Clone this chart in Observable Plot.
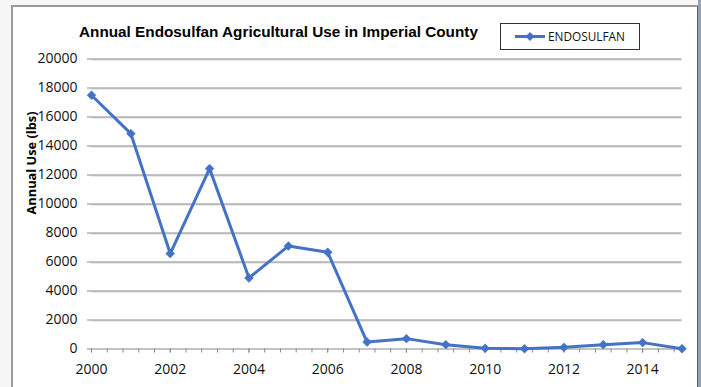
<!DOCTYPE html>
<html>
<head>
<meta charset="utf-8">
<script src="https://cdn.jsdelivr.net/npm/d3@7"></script>
<script src="https://cdn.jsdelivr.net/npm/@observablehq/plot@0.6"></script>
<style>
  html, body { margin: 0; padding: 0; background: #f7f7f7; }
  #wrap { position: relative; width: 701px; height: 387px; overflow: hidden; }
  #frame { position: absolute; left: 11px; top: 5px; width: 684px; height: 390px;
           background: #fff; border-left: 2px solid #9a9a9a; border-top: 2px solid #9a9a9a;
           border-right: 2px solid #5e5e5e; }
  #edge { position: absolute; left: 698px; top: 0; width: 3px; height: 387px; background: #8fa2ba; }
  #chart { position: absolute; left: 0; top: 0; }
  #title { position: absolute; left: 79px; top: 23px; font: bold 15.3px "Liberation Sans", Arial, sans-serif;
           color: #000; white-space: nowrap; }
  #legend { position: absolute; left: 500px; top: 23px; width: 138px; height: 25px;
            border: 1.5px solid #333; background: #fff; }
  #legend svg { position: absolute; left: 0; top: 0; }
  #legend span { position: absolute; left: 47px; top: 4px; font: 11.8px "Open Sans", sans-serif; color: #111; white-space: nowrap; }
  #ylabel { position: absolute; left: 31px; top: 163px; transform: translate(-50%, -50%) rotate(-90deg);
            font: bold 12.8px "Open Sans", sans-serif; color: #000; white-space: nowrap; line-height: 14px; }
</style>
</head>
<body>
<div id="wrap">
  <div id="frame"></div>
  <div id="edge"></div>
  <div id="chart"></div>
  <div id="title"></div>
  <div id="legend"></div>
  <div id="ylabel"></div>
</div>
<script>
const title = "Annual Endosulfan Agricultural Use in Imperial County";
const seriesName = "ENDOSULFAN";
const yLabel = "Annual Use (lbs)";
const years = [2000, 2001, 2002, 2003, 2004, 2005, 2006, 2007, 2008, 2009, 2010, 2011, 2012, 2013, 2014, 2015];
const endosulfan = [17500, 14850, 6580, 12440, 4900, 7100, 6670, 480, 715, 300, 50, 20, 115, 300, 440, 20];
const yTicks = [0, 2000, 4000, 6000, 8000, 10000, 12000, 14000, 16000, 18000, 20000];
const xTicks = [2000, 2002, 2004, 2006, 2008, 2010, 2012, 2014];

const blue = "#4472C4";
const data = years.map((y, i) => ({year: y, value: endosulfan[i]}));
const minorTicks = d3.range(0, 38).map(i => 2000 + i * 0.4).filter(v => v <= 2015.001);

const plot = Plot.plot({
  width: 701,
  height: 387,
  marginLeft: 91,
  marginRight: 19.5,
  marginTop: 58.5,
  marginBottom: 38.5,
  style: {background: "transparent", fontFamily: "'Open Sans', sans-serif", color: "#111"},
  x: {domain: [2000, 2015]},
  y: {domain: [0, 20000]},
  marks: [
    Plot.ruleY(yTicks.filter(d => d > 0), {stroke: "#d4d4d4", strokeWidth: 1, dy: 1}),
    Plot.ruleY(yTicks.filter(d => d > 0), {stroke: "#8a8a8a", strokeWidth: 1.2}),
    Plot.axisY({ticks: yTicks, tickSize: 4, tickPadding: 10, tickFormat: d => String(d), fontSize: 14, stroke: "#8a8a8a", label: null}),
    Plot.ruleY([0], {stroke: "#8a8a8a", strokeWidth: 1.2}),
    Plot.axisX({ticks: minorTicks, tickSize: 4, tickFormat: () => "", stroke: "#8a8a8a", label: null}),
    Plot.axisX({ticks: xTicks, tickSize: 4, tickPadding: 11, tickFormat: d => String(d), fontSize: 14, stroke: "#8a8a8a", label: null}),
    Plot.line(data, {x: "year", y: "value", stroke: blue, strokeWidth: 3}),
    Plot.dot(data, {x: "year", y: "value", symbol: "diamond2", r: 4, fill: blue, stroke: blue, strokeWidth: 0.5})
  ]
});
document.getElementById("chart").appendChild(plot);
document.getElementById("title").textContent = title;
document.getElementById("ylabel").textContent = yLabel;

// legend
const leg = document.getElementById("legend");
const ns = "http://www.w3.org/2000/svg";
const ls = document.createElementNS(ns, "svg");
ls.setAttribute("width", 50); ls.setAttribute("height", 25);
ls.innerHTML = `<line x1="14" x2="44" y1="12.5" y2="12.5" stroke="${blue}" stroke-width="3"/>` +
  `<path d="M29,8 L33.5,12.5 L29,17 L24.5,12.5 Z" fill="${blue}"/>`;
leg.appendChild(ls);
const sp = document.createElement("span");
sp.textContent = seriesName;
leg.appendChild(sp);
</script>
</body>
</html>
